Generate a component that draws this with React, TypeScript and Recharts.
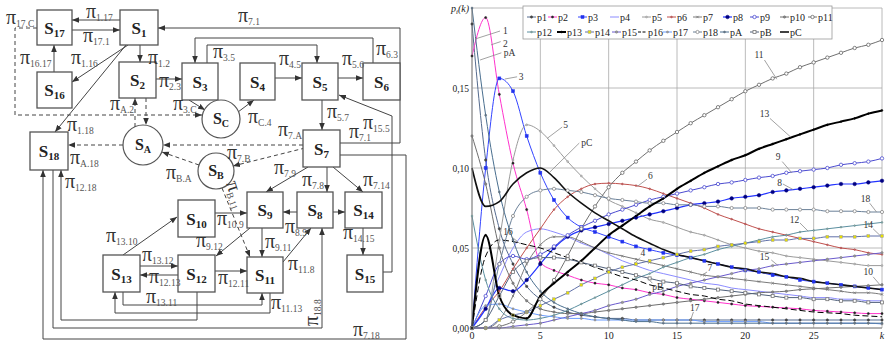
import React from 'react';
import { LineChart, Line, XAxis, YAxis, CartesianGrid, ReferenceLine, ReferenceDot } from 'recharts';

const FONT = 'Liberation Serif, DejaVu Serif, serif';

// ---------- chart data ----------
const K = [0,1,2,3,4,5,6,7,8,9,10,11,12,13,14,15,16,17,18,19,20,21,22,23,24,25,26,27,28,29,30];
const X_TICKS = [0, 5, 10, 15, 20, 25, 30];
const Y_TICKS = [0, 0.05, 0.1, 0.15, 0.2];

const p1 = [0.19,0.105,0.062,0.04,0.026,0.018,0.013,0.01,0.008,0.007,0.006,0.006,0.005,0.005,0.005,0.005,0.005,0.005,0.005,0.005,0.005,0.005,0.005,0.005,0.005,0.005,0.005,0.005,0.005,0.005,0.005];
const p2 = [0.17,0.194,0.146,0.103,0.074,0.041,0.036,0.033,0.03,0.028,0.027,0.025,0.024,0.022,0.021,0.019,0.018,0.017,0.016,0.015,0.014,0.0135,0.013,0.0125,0.012,0.011,0.0105,0.01,0.0095,0.009,0.009];
const p3 = [0,0.1,0.156,0.148,0.12,0.097,0.08,0.069,0.063,0.06,0.057,0.054,0.051,0.049,0.047,0.0455,0.044,0.042,0.04,0.038,0.036,0.035,0.033,0.032,0.03,0.029,0.028,0.027,0.026,0.025,0.024];
const p4 = [0,0.012,0.032,0.05,0.06,0.062,0.06,0.057,0.053,0.05,0.046,0.042,0.039,0.036,0.034,0.032,0.03,0.028,0.027,0.025,0.024,0.023,0.022,0.021,0.02,0.019,0.019,0.018,0.018,0.017,0.017];
const p5 = [0,0.005,0.055,0.105,0.127,0.123,0.114,0.104,0.095,0.087,0.08,0.076,0.072,0.068,0.066,0.063,0.06,0.058,0.055,0.052,0.05,0.048,0.047,0.045,0.044,0.043,0.042,0.041,0.04,0.039,0.039];
const p6 = [0,0.013,0.023,0.037,0.05,0.062,0.074,0.082,0.087,0.09,0.0905,0.09,0.089,0.087,0.084,0.081,0.078,0.075,0.071,0.068,0.065,0.062,0.06,0.058,0.056,0.054,0.052,0.05,0.049,0.047,0.046];
const p7 = [0,0,0.005,0.02,0.04,0.052,0.057,0.057,0.054,0.05,0.047,0.045,0.043,0.041,0.039,0.037,0.035,0.033,0.032,0.031,0.03,0.029,0.028,0.027,0.026,0.025,0.024,0.023,0.022,0.022,0.021];
const p8 = [0,0.012,0.025,0.023,0.03,0.04,0.05,0.057,0.061,0.063,0.065,0.067,0.069,0.071,0.073,0.075,0.077,0.078,0.079,0.081,0.082,0.083,0.085,0.086,0.087,0.088,0.089,0.09,0.09,0.091,0.092];
const p9 = [0,0.02,0.04,0.045,0.043,0.046,0.051,0.058,0.063,0.067,0.071,0.074,0.077,0.08,0.082,0.084,0.086,0.088,0.09,0.091,0.0925,0.094,0.095,0.097,0.098,0.099,0.1,0.102,0.103,0.104,0.106];
const p10 = [0.12,0.09,0.05,0.028,0.017,0.012,0.01,0.009,0.009,0.01,0.011,0.012,0.013,0.014,0.015,0.016,0.017,0.018,0.019,0.02,0.021,0.022,0.0225,0.023,0.024,0.0245,0.025,0.0255,0.026,0.0265,0.027];
const p11 = [0,0,0.001,0.004,0.01,0.018,0.03,0.045,0.062,0.076,0.088,0.097,0.104,0.111,0.117,0.1225,0.128,0.133,0.138,0.143,0.148,0.152,0.156,0.159,0.163,0.166,0.169,0.172,0.175,0.177,0.18];
const p12 = [0.07,0.03,0.012,0.006,0.005,0.006,0.008,0.011,0.015,0.019,0.023,0.027,0.031,0.034,0.038,0.041,0.044,0.046,0.049,0.051,0.053,0.055,0.057,0.058,0.06,0.061,0.062,0.063,0.064,0.065,0.066];
const p13 = [0,0.058,0.02,0.008,0.006,0.02,0.028,0.035,0.042,0.05,0.058,0.064,0.07,0.076,0.081,0.087,0.092,0.097,0.101,0.105,0.108,0.112,0.115,0.118,0.121,0.124,0.127,0.129,0.131,0.134,0.136];
const p14 = [0,0,0.005,0.008,0.01,0.014,0.018,0.022,0.027,0.031,0.035,0.038,0.04,0.042,0.044,0.046,0.048,0.049,0.051,0.052,0.053,0.054,0.055,0.055,0.056,0.056,0.057,0.057,0.057,0.0575,0.0575];
const p15 = [0,0,0,0.001,0.002,0.003,0.005,0.007,0.009,0.011,0.014,0.016,0.018,0.021,0.023,0.026,0.028,0.03,0.032,0.034,0.036,0.037,0.039,0.04,0.041,0.042,0.043,0.044,0.045,0.046,0.047];
const p16 = [0,0.045,0.055,0.054,0.052,0.05,0.047,0.044,0.041,0.038,0.035,0.032,0.03,0.027,0.025,0.023,0.021,0.02,0.018,0.017,0.015,0.014,0.013,0.012,0.011,0.01,0.0095,0.009,0.008,0.0075,0.007];
const p17 = [0,0.014,0.015,0.012,0.01,0.008,0.007,0.006,0.006,0.005,0.005,0.005,0.005,0.005,0.005,0.005,0.005,0.004,0.004,0.004,0.004,0.004,0.003,0.003,0.003,0.003,0.003,0.003,0.003,0.003,0.0025];
const p18 = [0,0.005,0.04,0.07,0.082,0.086,0.087,0.086,0.085,0.083,0.081,0.08,0.079,0.078,0.078,0.077,0.077,0.076,0.076,0.075,0.075,0.075,0.074,0.074,0.074,0.074,0.073,0.073,0.073,0.0725,0.0725];
const pA = [0.2,0.133,0.085,0.055,0.035,0.023,0.016,0.012,0.009,0.007,0.006,0.005,0.004,0.004,0.003,0.003,0.003,0.003,0.003,0.003,0.003,0.003,0.003,0.003,0.003,0.003,0.003,0.003,0.003,0.003,0.003];
const pB = [0,0.005,0.02,0.035,0.042,0.044,0.044,0.043,0.041,0.039,0.037,0.035,0.033,0.031,0.029,0.028,0.026,0.025,0.024,0.023,0.022,0.021,0.02,0.019,0.019,0.018,0.018,0.017,0.017,0.016,0.016];
const pC = [0.1,0.076,0.079,0.09,0.097,0.1,0.094,0.085,0.078,0.072,0.067,0.062,0.057,0.053,0.049,0.046,0.044,0.042,0.04,0.038,0.037,0.035,0.034,0.032,0.031,0.029,0.028,0.027,0.026,0.025,0.024];

const VALUES: Record<string, number[]> = { p1, p2, p3, p4, p5, p6, p7, p8, p9, p10, p11, p12, p13, p14, p15, p16, p17, p18, pA, pB, pC };

type S = { key: string; c: string; w: number; m: string; mf?: string; ms?: string; r?: number; dash?: string };
const SERIES: S[] = [
  { key: 'p1', c: '#556b8e', w: 1, m: 'dot', mf: '#444', ms: '#444', r: 1.2 },
  { key: 'p2', c: '#ff33cc', w: 1, m: 'dot', mf: '#222', ms: '#222', r: 1.1 },
  { key: 'p3', c: '#3344ff', w: 1, m: 'square', mf: '#2233ee', ms: '#2233ee', r: 1.5 },
  { key: 'p4', c: '#8c8cff', w: 1, m: 'none' },
  { key: 'p5', c: '#9a9a9a', w: 1, m: 'dot', mf: '#bbb', ms: '#999', r: 1 },
  { key: 'p6', c: '#c0504d', w: 1, m: 'dot', mf: '#c87070', ms: '#a44', r: 0.9 },
  { key: 'p7', c: '#7a7a7a', w: 1, m: 'x', ms: '#777', r: 1.2 },
  { key: 'p8', c: '#2233ff', w: 1.2, m: 'dot', mf: '#000080', ms: '#000080', r: 1.8 },
  { key: 'p9', c: '#4b4bd0', w: 1, m: 'open', ms: '#4b4bd0', r: 1.7 },
  { key: 'p10', c: '#6e6e6e', w: 1, m: 'dot', mf: '#888', ms: '#666', r: 1.2 },
  { key: 'p11', c: '#707070', w: 1, m: 'open', ms: '#666', r: 1.7 },
  { key: 'p12', c: '#5b8fa0', w: 1, m: 'dot', mf: '#8aa', ms: '#688', r: 0.9 },
  { key: 'p14', c: '#6070a8', w: 1, m: 'square', mf: '#e8e000', ms: '#999', r: 1.4 },
  { key: 'p15', c: '#6a5acd', w: 1, m: 'dot', mf: '#999', ms: '#777', r: 1.2 },
  { key: 'p16', c: '#000000', w: 1, m: 'none', dash: '6 3' },
  { key: 'p17', c: '#6a9cff', w: 1, m: 'dot', mf: '#999', ms: '#888', r: 1.1 },
  { key: 'p18', c: '#6a8098', w: 1, m: 'open', ms: '#888', r: 1.6 },
  { key: 'pA', c: '#4a6f8f', w: 1, m: 'dot', mf: '#678', ms: '#567', r: 1 },
  { key: 'pB', c: '#50607a', w: 1, m: 'opensq', ms: '#777', r: 1.5 },
  { key: 'p13', c: '#000000', w: 2, m: 'dot', mf: '#000', ms: '#000', r: 0.9 },
  { key: 'pC', c: '#111111', w: 1.6, m: 'none' },
];
const LEGEND_ORDER = ['p1','p2','p3','p4','p5','p6','p7','p8','p9','p10','p11','p12','p13','p14','p15','p16','p17','p18','pA','pB','pC'];

// curve labels: text position (tx,ty), leader from curve (lx,ly) to (ex,ey)
const CURVE_LABELS = [
  { t: '1', tx: 2.45, ty: 0.1856, lx: 0.22, ly: 0.1806, ex: 2.05, ey: 0.1856 },
  { t: '2', tx: 2.45, ty: 0.178, lx: 1.4, ly: 0.177, ex: 2.1, ey: 0.179 },
  { t: 'pA', tx: 2.75, ty: 0.172, lx: 0.59, ly: 0.1675, ex: 2.15, ey: 0.172 },
  { t: '3', tx: 3.6, ty: 0.157, lx: 2.4, ly: 0.1556, ex: 3.3, ey: 0.157 },
  { t: '5', tx: 6.85, ty: 0.127, lx: 5.5, ly: 0.1185, ex: 6.6, ey: 0.1256 },
  { t: 'pC', tx: 8.4, ty: 0.116, lx: 5.7, ly: 0.0975, ex: 7.85, ey: 0.1156 },
  { t: '6', tx: 13.05, ty: 0.095, lx: 12.1, ly: 0.0885, ex: 12.8, ey: 0.093 },
  { t: '11', tx: 21.0, ty: 0.1706, lx: 22.3, ly: 0.1555, ex: 21.4, ey: 0.1675 },
  { t: '13', tx: 21.4, ty: 0.134, lx: 23.3, ly: 0.1195, ex: 21.8, ey: 0.131 },
  { t: '9', tx: 22.4, ty: 0.107, lx: 23.4, ly: 0.097, ex: 22.7, ey: 0.104 },
  { t: '8', tx: 22.5, ty: 0.091, lx: 23.5, ly: 0.0865, ex: 22.75, ey: 0.09 },
  { t: '18', tx: 28.8, ty: 0.0806, lx: 29.6, ly: 0.0725, ex: 29.1, ey: 0.078 },
  { t: '12', tx: 23.6, ty: 0.068, lx: 24.6, ly: 0.0605, ex: 24.0, ey: 0.0656 },
  { t: '14', tx: 29.0, ty: 0.0644, lx: 29.9, ly: 0.0575, ex: 29.35, ey: 0.062 },
  { t: '15', tx: 21.4, ty: 0.0444, lx: 22.4, ly: 0.039, ex: 21.9, ey: 0.0425 },
  { t: '10', tx: 29.0, ty: 0.035, lx: 29.9, ly: 0.0265, ex: 29.35, ey: 0.032 },
  { t: '7', tx: 17.4, ty: 0.0375, lx: 16.7, ly: 0.0325, ex: 17.2, ey: 0.035 },
  { t: '4', tx: 12.5, ty: 0.047, lx: 11.8, ly: 0.0395, ex: 12.3, ey: 0.044 },
  { t: 'pB', tx: 13.6, ty: 0.0256, lx: 12.8, ly: 0.0315, ex: 13.2, ey: 0.028 },
  { t: '16', tx: 2.63, ty: 0.06, lx: 3.5, ly: 0.0528, ex: 2.9, ey: 0.057 },
  { t: '17', tx: 16.3, ty: 0.0125, lx: 16.0, ly: 0.005, ex: 16.2, ey: 0.01 },
];

const DATA = K.map((k, i) => {
  const row: Record<string, number> = { k };
  Object.keys(VALUES).forEach((key) => { row[key] = VALUES[key][i]; });
  return row;
});

function drawMarker(s: S, cx: number, cy: number, key: string) {
  const r = s.r ?? 1.4;
  if (s.m === 'none') return <g key={key} />;
  if (s.m === 'square') return <rect key={key} x={cx - r} y={cy - r} width={2 * r} height={2 * r} fill={s.mf} stroke={s.ms} strokeWidth={0.5} />;
  if (s.m === 'open') return <circle key={key} cx={cx} cy={cy} r={r} fill="#fff" stroke={s.ms} strokeWidth={0.8} />;
  if (s.m === 'opensq') return <rect key={key} x={cx - r} y={cy - r} width={2 * r} height={2 * r} fill="#fff" stroke={s.ms} strokeWidth={0.8} />;
  if (s.m === 'x') return <path key={key} d={`M${cx - r},${cy - r}L${cx + r},${cy + r}M${cx - r},${cy + r}L${cx + r},${cy - r}`} stroke={s.ms} strokeWidth={0.8} />;
  return <circle key={key} cx={cx} cy={cy} r={r} fill={s.mf} stroke={s.ms} strokeWidth={0.5} />;
}

const makeDot = (s: S) => (props: any) => {
  const { cx, cy, index } = props;
  const key = `${s.key}-${index}`;
  if (cx == null || cy == null) return <g key={key} />;
  return drawMarker(s, cx, cy, key);
};

const XTick = (props: any) => {
  const { x, y, payload } = props;
  const last = payload.value === 30;
  return (
    <text x={x} y={y + 9} textAnchor="middle" fontSize={10} fontFamily={FONT} fill="#222" fontStyle={last ? 'italic' : 'normal'}>
      {last ? 'k' : payload.value}
    </text>
  );
};

const YTick = (props: any) => {
  const { x, y, payload } = props;
  if (payload.value === 0.2) {
    return (
      <text x={x} y={y + 4} textAnchor="end" fontSize={10} fontFamily={FONT} fill="#222" fontStyle="italic">
        p<tspan fontSize={7} dy={2}>i</tspan><tspan dy={-2}>(k)</tspan>
      </text>
    );
  }
  return (
    <text x={x} y={y + 3.5} textAnchor="end" fontSize={9.5} fontFamily={FONT} fill="#222">
      {payload.value.toFixed(2).replace('.', ',')}
    </text>
  );
};

const LEG_ROW1 = [527, 548, 578, 610, 642, 667, 693, 723, 750, 780, 808];
const LEG_ROW2 = [527, 557, 585, 612, 638, 663, 693, 720, 750, 780];

function LegendBox() {
  const items = LEGEND_ORDER.map((k, i) => {
    const s = SERIES.find((q) => q.key === k)!;
    const row = i < 11 ? 0 : 1;
    const x = row === 0 ? LEG_ROW1[i] : LEG_ROW2[i - 11];
    const y = row === 0 ? 17 : 32;
    return (
      <g key={k}>
        <line x1={x} y1={y} x2={x + 9} y2={y} stroke={s.c} strokeWidth={s.w} strokeDasharray={s.dash ? '3 1.5' : undefined} />
        {drawMarker(s, x + 4.5, y, k + '-lg')}
        <text x={x + 10} y={y + 3.5} fontSize={10} fontFamily={FONT} fill="#222">{k}</text>
      </g>
    );
  });
  return (
    <svg width={886} height={342} style={{ position: 'absolute', left: 0, top: 0, pointerEvents: 'none' }}>
      <rect x={523} y={6} width={309} height={33} fill="#fff" stroke="#999" strokeWidth={0.8} />
      {items}
    </svg>
  );
}

// ---------- state diagram ----------
const BOXES = [
  { n: '17', x: 37, y: 10, w: 35, h: 35 }, { n: '1', x: 120, y: 10, w: 38, h: 35 },
  { n: '16', x: 37, y: 72, w: 35, h: 36 }, { n: '2', x: 119, y: 62, w: 37, h: 36 },
  { n: '3', x: 182, y: 63, w: 36, h: 37 }, { n: '4', x: 240, y: 63, w: 35, h: 37 },
  { n: '5', x: 302, y: 63, w: 36, h: 37 }, { n: '6', x: 363, y: 63, w: 37, h: 37 },
  { n: '18', x: 30, y: 132, w: 38, h: 38 }, { n: '7', x: 303, y: 130, w: 37, h: 37 },
  { n: '10', x: 178, y: 200, w: 37, h: 37 }, { n: '9', x: 247, y: 192, w: 36, h: 36 },
  { n: '8', x: 297, y: 192, w: 36, h: 36 }, { n: '14', x: 345, y: 192, w: 37, h: 36 },
  { n: '13', x: 103, y: 255, w: 37, h: 37 }, { n: '12', x: 178, y: 255, w: 37, h: 37 },
  { n: '11', x: 247, y: 257, w: 36, h: 36 }, { n: '15', x: 347, y: 255, w: 36, h: 37 },
];
const CIRCLES = [
  { n: 'A', cx: 143, cy: 145, r: 20 },
  { n: 'B', cx: 216, cy: 171, r: 18 },
  { n: 'C', cx: 221, cy: 119, r: 19 },
];
const EDGES: { p: number[][]; d?: boolean }[] = [
  { p: [[120, 20], [72, 20]] },
  { p: [[72, 30], [120, 30]] },
  { p: [[54, 72], [54, 45]] },
  { p: [[128, 45], [72, 82]] },
  { p: [[126, 45], [55, 132]] },
  { p: [[140, 45], [140, 62]] },
  { p: [[156, 79], [182, 79]] },
  { p: [[37, 28], [15, 28], [15, 115], [202, 115]], d: true },
  { p: [[135, 127], [135, 98]], d: true },
  { p: [[146, 98], [146, 125]], d: true },
  { p: [[189, 100], [205, 110]] },
  { p: [[238, 112], [254, 100]] },
  { p: [[275, 78], [302, 78]] },
  { p: [[338, 78], [363, 78]] },
  { p: [[207, 63], [207, 45], [317, 45], [317, 63]] },
  { p: [[373, 63], [373, 38], [195, 38], [195, 63]] },
  { p: [[340, 143], [400, 143], [400, 28], [158, 28]] },
  { p: [[322, 100], [322, 130]] },
  { p: [[383, 272], [392, 272], [392, 116], [339, 95]] },
  { p: [[303, 145], [163, 145]], d: true },
  { p: [[305, 148], [233, 166]], d: true },
  { p: [[199, 165], [162, 152]], d: true },
  { p: [[123, 145], [68, 145]], d: true },
  { p: [[222, 188], [250, 257]], d: true },
  { p: [[308, 167], [266, 192]] },
  { p: [[327, 167], [327, 192]] },
  { p: [[333, 167], [363, 192]] },
  { p: [[340, 155], [406, 155], [406, 339], [43, 339], [43, 170]] },
  { p: [[53, 170], [53, 328], [322, 328], [322, 228]] },
  { p: [[197, 292], [197, 320], [61, 320], [61, 170]] },
  { p: [[123, 292], [123, 305], [262, 305], [262, 293]] },
  { p: [[270, 293], [270, 313], [115, 313], [115, 292]] },
  { p: [[123, 255], [177, 217]] },
  { p: [[140, 266], [178, 266]] },
  { p: [[178, 275], [140, 275]] },
  { p: [[215, 213], [247, 213]] },
  { p: [[250, 228], [216, 256]] },
  { p: [[262, 228], [262, 257]] },
  { p: [[297, 212], [283, 212]] },
  { p: [[333, 212], [345, 212]] },
  { p: [[283, 262], [311, 228]] },
  { p: [[215, 271], [247, 271]] },
  { p: [[363, 228], [363, 255]] },
];
const PI_LABELS: { s: string; x: number; y: number; rot?: number }[] = [
  { s: '1.17', x: 86, y: 18 }, { s: '17.1', x: 83, y: 42 }, { s: '17.C', x: 6, y: 24 },
  { s: '16.17', x: 20, y: 64 }, { s: '1.16', x: 71, y: 64 }, { s: '1.2', x: 148, y: 64 },
  { s: '2.3', x: 159, y: 87 }, { s: 'A.2', x: 110, y: 110 }, { s: '3.C', x: 173, y: 110 },
  { s: '1.18', x: 67, y: 131 }, { s: 'A.18', x: 70, y: 164 }, { s: 'B.A', x: 166, y: 179 },
  { s: '7.1', x: 238, y: 22 }, { s: '3.5', x: 213, y: 58 }, { s: '4.5', x: 279, y: 65 },
  { s: '5.6', x: 342, y: 65 }, { s: '6.3', x: 376, y: 55 }, { s: 'C.4', x: 248, y: 123 },
  { s: '5.7', x: 327, y: 118 }, { s: '7.1', x: 349, y: 138 }, { s: '15.5', x: 363, y: 129 },
  { s: '7.A', x: 278, y: 136 }, { s: '7.B', x: 227, y: 159 }, { s: '7.9', x: 274, y: 174 },
  { s: '12.18', x: 65, y: 188 }, { s: '13.10', x: 106, y: 242 }, { s: '13.12', x: 142, y: 261 },
  { s: '12.13', x: 149, y: 283 }, { s: '13.11', x: 146, y: 303 }, { s: '9.12', x: 196, y: 247 },
  { s: '10.9', x: 217, y: 225 }, { s: '7.8', x: 302, y: 186 }, { s: '7.14', x: 363, y: 186 },
  { s: '8.9', x: 285, y: 233 }, { s: '14.15', x: 343, y: 239 }, { s: '9.11', x: 265, y: 248 },
  { s: '11.8', x: 288, y: 270 }, { s: '12.11', x: 218, y: 284 }, { s: '11.13', x: 271, y: 309 },
  { s: '7.18', x: 353, y: 336 }, { s: '18.8', x: 318, y: 326, rot: -90 }, { s: 'B.11', x: 226, y: 183, rot: 72 },
];

function Diagram() {
  return (
    <svg width={430} height={342} style={{ position: 'absolute', left: 0, top: 0 }}>
      <defs>
        <marker id="ah" viewBox="0 0 10 10" refX="10" refY="5" markerWidth="7" markerHeight="7" orient="auto" markerUnits="userSpaceOnUse">
          <path d="M0,1 L10,5 L0,9 z" fill="#333" />
        </marker>
      </defs>
      {EDGES.map((e, i) => (
        <polyline key={i} points={e.p.map((q) => q.join(',')).join(' ')} fill="none" stroke="#444" strokeWidth={1}
          strokeDasharray={e.d ? '4 3' : undefined} markerEnd="url(#ah)" />
      ))}
      {BOXES.map((b) => (
        <g key={b.n}>
          <rect x={b.x} y={b.y} width={b.w} height={b.h} fill="#fff" stroke="#555" strokeWidth={1.3} />
          <text x={b.x + b.w / 2} y={b.y + b.h / 2 + 6} textAnchor="middle" fontFamily={FONT} fontWeight="bold" fill="#222">
            <tspan fontSize={17}>S</tspan><tspan fontSize={11} dy={3}>{b.n}</tspan>
          </text>
        </g>
      ))}
      {CIRCLES.map((c) => (
        <g key={c.n}>
          <circle cx={c.cx} cy={c.cy} r={c.r} fill="#fff" stroke="#555" strokeWidth={1.2} />
          <text x={c.cx} y={c.cy + 5} textAnchor="middle" fontFamily={FONT} fontWeight="bold" fill="#222">
            <tspan fontSize={16}>S</tspan><tspan fontSize={10} dy={3}>{c.n}</tspan>
          </text>
        </g>
      ))}
      {PI_LABELS.map((l, i) => (
        <text key={i} x={l.x} y={l.y} fontFamily={FONT} fill="#333"
          transform={l.rot ? `rotate(${l.rot} ${l.x} ${l.y})` : undefined}>
          <tspan fontSize={20}>π</tspan><tspan fontSize={9.5} dy={3} fill="#555">{l.s}</tspan>
        </text>
      ))}
    </svg>
  );
}

export default function App() {
  return (
    <div style={{ position: 'absolute', left: 0, top: 0, width: 886, height: 342, background: '#fff', overflow: 'hidden' }}>
      <Diagram />
      <div style={{ position: 'absolute', left: 420, top: 0 }}>
        <LineChart width={466} height={342} data={DATA} margin={{ top: 8, right: 4, left: 0, bottom: 0 }}>
          <CartesianGrid stroke="#a8a8a8" strokeWidth={0.8} />
          <XAxis dataKey="k" type="number" domain={[0, 30]} ticks={X_TICKS} interval={0} tick={<XTick />}
            tickLine={false} tickSize={0} tickMargin={2} height={14} axisLine={{ stroke: '#888' }} />
          <YAxis type="number" domain={[0, 0.2]} ticks={Y_TICKS} interval={0} tick={<YTick />}
            tickLine={false} tickSize={0} tickMargin={3} width={52} axisLine={{ stroke: '#888' }} />
          {SERIES.map((s) => (
            <Line key={s.key} dataKey={s.key} type="monotone" stroke={s.c} strokeWidth={s.w}
              strokeDasharray={s.dash} dot={s.m === 'none' ? false : makeDot(s)} activeDot={false}
              isAnimationActive={false} />
          ))}
          {CURVE_LABELS.map((l) => (
            <ReferenceLine key={'ll' + l.t} segment={[{ x: l.lx, y: l.ly }, { x: l.ex, y: l.ey }]} stroke="#8a8a8a" strokeWidth={0.8} />
          ))}
          {CURVE_LABELS.map((l) => (
            <ReferenceDot key={'ld' + l.t} x={l.tx} y={l.ty} r={0} fill="none" stroke="none"
              label={{ value: l.t, position: 'center', fontSize: 9.5, fontFamily: FONT, fill: '#333' }} />
          ))}
        </LineChart>
      </div>
      <LegendBox />
    </div>
  );
}
